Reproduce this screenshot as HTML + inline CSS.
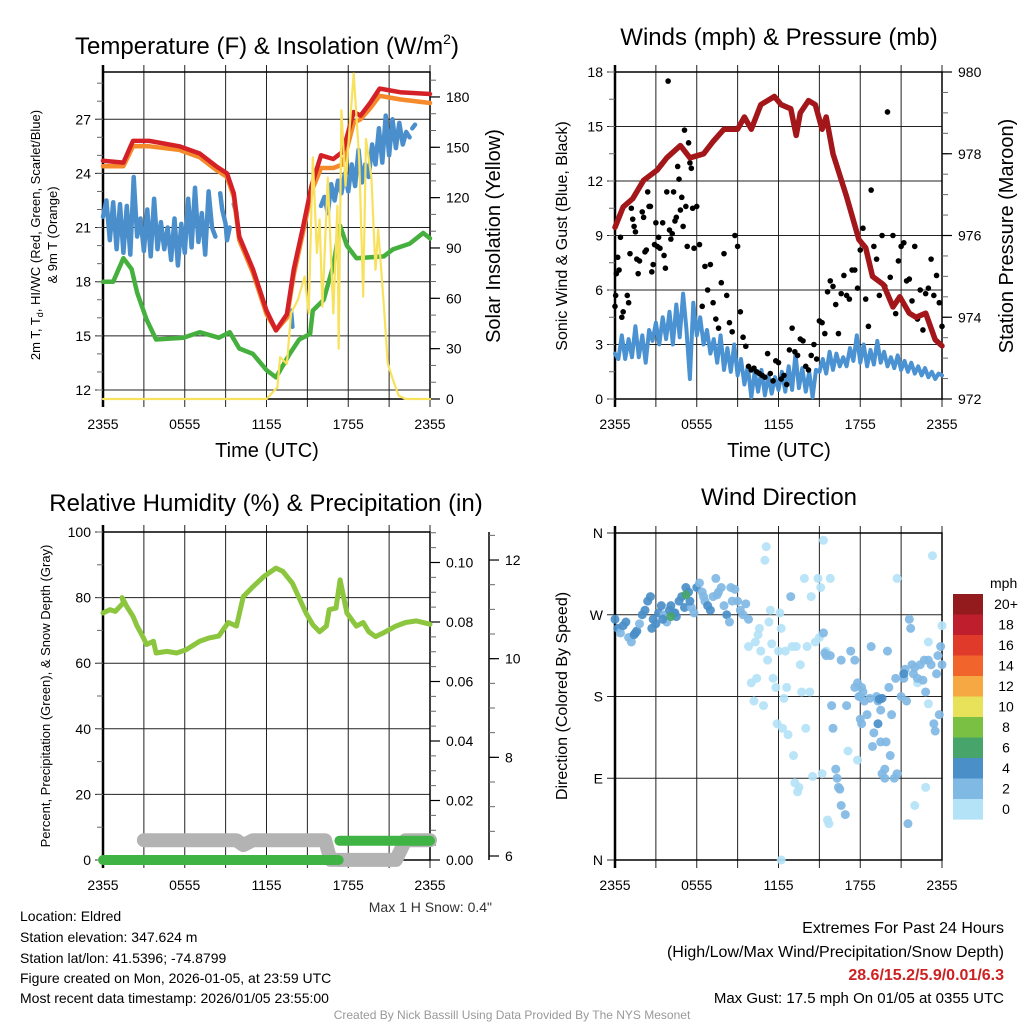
<!DOCTYPE html>
<html><head><meta charset="utf-8"><style>
html,body{margin:0;padding:0;background:#fff;}
svg{display:block;font-family:"Liberation Sans",Arial,sans-serif;}
</style></head><body>
<svg id="chart" width="1024" height="1024" viewBox="0 0 1024 1024" xmlns="http://www.w3.org/2000/svg">
<rect x="0" y="0" width="1024" height="1024" fill="#fff"/>
<text x="267" y="54" font-size="24" text-anchor="middle">Temperature (F) &amp; Insolation (W/m<tspan font-size="14" dy="-10">2</tspan><tspan dy="10">)</tspan></text>
<text x="779" y="45" font-size="24" text-anchor="middle">Winds (mph) &amp; Pressure (mb)</text>
<text x="266" y="511" font-size="24" text-anchor="middle">Relative Humidity (%) &amp; Precipitation (in)</text>
<text x="779" y="505" font-size="24" text-anchor="middle">Wind Direction</text>
<text x="267" y="457" font-size="20" text-anchor="middle">Time (UTC)</text>
<text x="779" y="457" font-size="20" text-anchor="middle">Time (UTC)</text>
<text transform="translate(40,235) rotate(-90)" font-size="13" text-anchor="middle">2m T, T<tspan font-size="9" dy="3">d</tspan><tspan dy="-3">, HI/WC (Red, Green, Scarlet/Blue)</tspan></text>
<text transform="translate(57,235) rotate(-90)" font-size="13" text-anchor="middle">&amp; 9m T (Orange)</text>
<text transform="translate(500,236) rotate(-90)" font-size="20" text-anchor="middle">Solar Insolation (Yellow)</text>
<text transform="translate(567,236) rotate(-90)" font-size="16" text-anchor="middle">Sonic Wind &amp; Gust (Blue, Black)</text>
<text transform="translate(1013,236) rotate(-90)" font-size="20" text-anchor="middle">Station Pressure (Maroon)</text>
<text transform="translate(50,696) rotate(-90)" font-size="13" text-anchor="middle">Percent, Precipitation (Green), &amp; Snow Depth (Gray)</text>
<text transform="translate(567,696) rotate(-90)" font-size="16" text-anchor="middle">Direction (Colored By Speed)</text>
<text x="492" y="912" font-size="14" text-anchor="end" fill="#333">Max 1 H Snow: 0.4"</text>
<g font-size="14" fill="#000">
<text x="20" y="921">Location: Eldred</text>
<text x="20" y="942">Station elevation: 347.624 m</text>
<text x="20" y="963">Station lat/lon: 41.5396; -74.8799</text>
<text x="20" y="983">Figure created on Mon, 2026-01-05, at 23:59 UTC</text>
<text x="20" y="1003">Most recent data timestamp: 2026/01/05 23:55:00</text>
</g>
<g font-size="16" text-anchor="end">
<text x="1004" y="933">Extremes For Past 24 Hours</text>
<text x="1004" y="957">(High/Low/Max Wind/Precipitation/Snow Depth)</text>
<text x="1004" y="980" fill="#cc2222" font-weight="bold">28.6/15.2/5.9/0.01/6.3</text>
<text x="1004" y="1003" font-size="15">Max Gust: 17.5 mph On 01/05 at 0355 UTC</text>
</g>
<text x="512" y="1019" font-size="12" text-anchor="middle" fill="#999">Created By Nick Bassill Using Data Provided By The NYS Mesonet</text>
</svg>
<script>
const timeTickLabels = ["2355","0555","1155","1755","2355"];
const timeTickHours = [0,6,12,18,24];
const p1LeftTicks = [12,15,18,21,24,27];
const p1RightTicks = [0,30,60,90,120,150,180];
const p2LeftTicks = [0,3,6,9,12,15,18];
const p2RightTicks = [972,974,976,978,980];
const p3LeftTicks = [0,20,40,60,80,100];
const p3PrecipTicks = [0,0.02,0.04,0.06,0.08,0.10];
const p3SnowTicks = [6,8,10,12];
const dirTickLabels = ["N","E","S","W","N"];
const dirTickDeg = [0,90,180,270,360];

const tempT = [0,1.5,2.2,3.4,5.6,7.1,8.3,9.1,9.6,10.0,11.0,12.0,12.7,13.5,14.0,14.7,15.3,16.0,16.9,17.6,18.4,18.9,19.6,20.3,21.8,24];
const tempV = [24.7,24.6,25.8,25.8,25.5,25.1,24.4,24.0,22.9,20.5,18.7,16.4,15.3,16.2,18.7,21.1,23.3,25.0,24.8,25.2,27.4,27.2,27.9,28.7,28.5,28.4];
const t9mT = [0,1.5,2.2,3.4,5.6,7.1,8.3,9.1,9.6,10.0,11.0,12.0,12.7,13.5,14.0,14.7,15.3,16.0,16.9,17.6,18.4,18.9,19.6,20.3,21.8,24];
const t9mV = [24.4,24.4,25.5,25.5,25.3,24.9,24.2,23.8,22.7,20.3,18.5,16.2,15.3,16.0,18.4,20.8,23.0,24.3,24.3,24.5,26.8,27.0,27.6,28.3,28.1,27.9];
const dewT = [0,0.75,1.5,2.1,2.5,3.2,3.9,5.9,7.1,8.5,9.3,10.0,11.0,12.0,12.7,13.7,14.4,15.2,15.4,16.2,16.9,17.4,17.9,18.6,20.6,21.3,22.5,23.5,24];
const dewV = [18.0,18.0,19.3,18.7,17.4,15.9,14.8,14.9,15.2,14.9,15.2,14.3,14.0,13.1,12.7,14.0,14.8,15.1,16.4,17.0,18.9,21.1,20.0,19.3,19.4,19.8,20.1,20.7,20.4];
const hiT = [0,0.25,0.5,0.75,1,1.25,1.5,1.75,2,2.25,2.5,2.75,3,3.25,3.5,3.75,4,4.25,4.5,4.75,5,5.25,5.5,5.75,6,6.25,6.5,6.75,7,7.25,7.5,7.75,8,8.25,null,8.6,8.75,9.0,9.1,9.3,null,9.6,9.8,null,13.8,13.9,null,16.0,16.25,16.5,16.75,17.0,17.25,17.5,17.75,18.0,18.25,18.5,18.75,19.0,19.25,19.5,19.75,20.0,20.25,20.5,20.75,21.0,21.25,21.5,21.75,22.0,22.25,22.5,null,22.7,22.9];
const hiV = [21.6,22.5,20.3,22.4,19.8,22.3,19.6,22.2,19.5,23.8,20.5,21.5,19.7,22.0,19.4,22.6,19.8,21.3,19.8,21.0,19.2,21.5,18.9,21.2,19.6,22.6,19.9,23.2,20.2,21.8,19.5,23.0,21.0,20.5,null,22.9,22.0,21.2,20.3,21.0,null,22.3,21.8,null,16.4,15.5,null,22.2,22.7,21.8,23.4,22.5,23.6,22.9,24.0,23.0,24.5,23.3,25.3,23.5,24.5,23.8,25.6,24.5,26.5,24.6,27.2,25.0,27.0,25.4,26.8,25.6,26.3,26.0,null,26.5,26.7];
const solT = [0,12.0,12.8,13.0,13.5,13.8,14.3,14.8,15.1,15.4,15.7,15.9,16.1,16.5,16.9,17.2,17.3,17.5,17.8,18.0,18.4,18.8,19.1,19.3,19.7,20.0,20.2,20.6,20.9,21.3,21.7,22.2,24];
const solV = [0,0,7,25,21,51,59,73,51,144,87,107,55,132,51,115,30,172,127,151,194,143,61,155,132,77,101,57,21,11,2,0,0];

const presT = [0,0.6,1.3,2.1,3.1,3.8,4.8,5.5,6.5,7.2,8.0,9.0,9.5,10.0,10.7,11.7,12.2,12.9,13.3,13.6,14.2,14.7,15.2,15.5,16.0,17.0,17.9,18.4,18.9,19.7,20.4,20.9,21.6,22.1,22.8,23.5,24];
const presV = [976.2,976.7,976.9,977.35,977.6,977.9,978.2,977.9,978.0,978.3,978.6,978.6,978.9,978.6,979.2,979.4,979.2,979.1,978.45,979.0,979.3,979.2,978.6,978.9,978.0,976.95,975.9,975.7,975.0,974.8,974.25,974.5,974.1,974.0,974.1,973.45,973.3];
const windT = [0,0.25,0.5,0.75,1,1.25,1.5,1.75,2,2.25,2.5,2.75,3,3.25,3.5,3.75,4,4.25,4.5,4.75,5,5.25,5.5,5.75,6,6.25,6.5,6.75,7,7.25,7.5,7.75,8,8.25,8.5,8.75,9,9.25,9.5,9.75,10,10.25,10.5,10.75,11,11.25,11.5,11.75,12,12.25,12.5,12.75,13,13.25,13.5,13.75,14,14.25,14.5,14.75,15,15.25,15.5,15.75,16,16.25,16.5,16.75,17,17.25,17.5,17.75,18,18.25,18.5,18.75,19,19.25,19.5,19.75,20,20.25,20.5,20.75,21,21.25,21.5,21.75,22,22.25,22.5,22.75,23,23.25,23.5,23.75,24];
const windV = [2.5,2.2,3.5,2.2,3.3,2.3,4.0,2.3,3.5,2.0,3.8,3.2,4.2,3.0,4.5,3.3,4.8,3.0,5.2,3.4,5.8,3.8,1.1,5.3,3.5,4.5,3.0,3.8,2.5,3.3,2.0,3.5,1.6,2.8,1.5,3.0,1.3,2.2,0.8,1.8,0.1,1.5,0.4,1.6,0.2,1.3,0.3,1.2,0.5,1.5,0.4,1.8,0.5,2.5,0.6,1.7,0.4,1.5,0.1,1.6,1.5,2.2,1.4,2.6,1.6,2.5,1.8,2.3,1.8,2.8,2.1,3.5,2.0,3.0,1.8,2.7,1.9,3.2,2.0,2.6,1.8,2.3,1.7,2.4,1.6,2.1,1.5,2.0,1.4,1.8,1.3,1.7,1.2,1.5,1.1,1.4,1.3];
const gustT = [0,0.05,0.1,0.2,0.3,0.4,0.5,0.6,0.9,1.0,1.1,1.2,1.3,1.4,1.5,1.6,1.7,1.8,2.0,2.1,2.2,2.3,2.4,2.5,2.6,2.7,2.8,2.9,3.0,3.1,3.2,3.3,3.4,3.5,3.6,3.7,3.8,3.9,4.0,4.1,4.2,4.3,4.4,4.5,4.6,4.7,4.8,4.9,5.0,5.1,5.2,5.3,5.4,5.5,5.6,5.7,5.8,6.0,6.2,6.4,6.6,6.8,7.0,7.2,7.4,7.6,7.8,8.0,8.2,8.4,8.6,8.8,9.0,9.2,9.4,9.6,9.8,10.0,10.2,10.4,10.6,10.8,11.0,11.2,11.4,11.6,11.8,12.0,12.2,12.4,12.6,12.8,13.0,13.2,13.4,13.6,13.8,14.0,14.2,14.4,14.6,14.8,15.0,15.2,15.4,15.6,15.8,16.0,16.2,16.4,16.6,16.8,17.0,17.2,17.4,17.6,17.8,18.0,18.2,18.4,18.6,18.8,19.0,19.2,19.4,19.6,19.8,20.0,20.2,20.4,20.6,20.8,21.0,21.2,21.4,21.6,21.8,22.0,22.2,22.4,22.6,22.8,23.0,23.2,23.4,23.6,23.8,24.0];
const gustV = [5.1,5.7,6.9,7.8,7.1,8.9,4.5,4.8,5.7,5.3,8.0,10.5,9.9,9.5,9.2,7.7,6.9,7.6,10.3,10.0,8.1,8.2,11.4,10.6,10.6,7.0,7.4,8.5,9.7,8.4,8.9,8.3,12.9,9.7,7.9,7.2,11.4,17.5,9.3,8.8,9.1,11.4,9.8,10.0,12.8,12.1,10.4,11.1,9.5,14.8,10.6,8.4,14.1,13.0,12.7,10.5,8.3,10.6,8.5,5.1,7.3,6.0,7.4,5.3,4.4,3.9,6.4,8.0,5.7,4.2,3.7,9.0,8.4,4.8,3.4,2.9,1.8,1.6,1.7,1.5,1.4,1.3,1.2,2.5,1.4,1.0,2.1,2.0,1.1,1.3,0.8,2.7,3.9,2.6,2.4,3.3,3.2,1.8,1.6,2.4,3.0,2.2,4.3,4.2,3.6,5.9,6.5,6.2,5.2,3.6,5.8,6.8,5.7,5.5,7.1,7.1,6.1,8.2,9.4,5.5,4.0,11.5,8.4,7.7,5.7,9.0,6.2,15.8,6.7,9.0,4.7,7.6,8.4,8.6,6.5,6.6,5.4,8.4,4.4,6.0,3.8,5.8,6.1,7.7,5.7,6.8,5.3,4.0,5.5,6.8,6.4,3.7];

const rhT = [0,0.5,0.9,1.5,1.4,1.75,2.2,2.5,2.9,3.2,3.7,3.9,4.7,5.4,6.1,7.1,7.8,8.5,9.2,9.8,10.3,11.0,11.8,12.7,13.2,13.9,14.9,15.4,15.9,16.4,16.6,17.1,17.4,17.9,18.6,19.1,19.5,20.0,20.5,21.5,22.2,23.0,24];
const rhV = [75.3,76.3,75.8,78.4,80,77.3,74.3,71.3,68.3,65.7,66.7,63.1,63.6,63.1,64.1,66.7,67.7,68.3,72.4,71.3,80.3,83.3,86.4,89.0,88.0,84.4,75.3,71.7,69.6,71.3,76.3,76.8,85.4,75.3,71.3,72.4,69.6,68.1,69.1,71.3,72.4,72.9,71.9];
const precipT = [0,17.3,null,17.35,24];
const precipV = [0,0,null,0.0065,0.0065];
const snowT = [3.0,9.8,10.3,11.0,11.5,16.3,16.7,21.5,22.2,24];
const snowV = [6.32,6.32,6.22,6.32,6.32,6.32,5.92,5.92,6.32,6.32];

const dirT = [0,0.2,0.4,0.6,0.8,1.0,1.2,1.4,1.6,1.8,2.0,2.2,2.4,2.6,2.8,3.0,3.2,3.4,3.6,3.8,4.0,4.1,4.3,4.5,4.7,4.9,5.1,5.2,5.4,5.6,5.8,6.0,6.2,6.4,6.6,6.8,7.0,7.2,7.4,7.6,7.8,8.0,8.2,8.4,8.6,8.8,9.0,9.2,9.4,9.6,9.8,1.5,2.7,3.5,4.4,5.5,6.5,7.5,8.5,
9.8,10.0,10.2,10.3,10.4,10.5,10.6,10.7,10.9,11.0,11.1,11.2,11.3,11.4,11.5,11.6,11.8,11.9,12.0,12.1,12.2,12.3,12.4,12.5,12.6,12.7,12.9,13.0,13.1,13.2,13.3,13.4,13.5,13.6,13.7,13.9,14.0,14.1,14.3,14.4,14.5,14.7,14.9,15.0,15.1,15.2,15.3,15.5,15.6,15.7,15.8,12.2,22.0,22.8,23.0,24.0,23.3,17.1,17.8,22.2,20.7,23.0,
15.3,15.4,15.5,15.8,15.9,16.0,16.2,16.3,16.4,16.5,16.6,16.9,16.6,17.3,17.6,17.6,17.8,17.9,18.0,18.1,18.2,18.0,18.1,18.3,18.5,18.7,18.8,18.9,19.0,19.2,19.3,19.5,19.6,19.8,19.9,20.0,20.1,20.2,20.3,20.5,20.6,20.7,21.0,21.2,21.3,21.4,21.5,21.6,21.7,21.8,21.9,22.0,22.2,22.4,22.6,22.7,22.8,23.0,23.2,23.4,23.6,23.9,24.0,23.8,23.5,23.7,19.8,19.5,17.0,
19.3,19.4,21.2,19.6,4.1,5.2];
const dirD = [265,255,250,258,262,245,240,248,252,260,270,275,285,290,265,260,272,280,270,262,275,280,272,268,285,290,278,300,295,278,272,300,305,295,285,280,275,290,310,295,300,280,270,262,285,298,285,275,270,282,265,250,255,265,272,285,290,292,300,
235,195,175,240,200,248,255,230,170,330,345,220,262,275,238,200,190,150,230,272,255,145,178,230,190,138,290,235,115,85,235,75,80,215,185,310,145,235,185,290,92,240,310,245,300,95,352,230,44,40,310,0,60,80,172,258,335,120,110,195,310,240,
250,228,225,225,170,145,100,90,80,78,60,50,220,230,220,190,195,180,180,190,185,155,150,175,160,178,235,125,140,180,175,165,95,90,130,230,190,115,160,90,200,95,180,200,210,175,40,265,255,215,205,212,200,215,198,220,185,220,215,150,205,235,215,160,142,225,100,130,170,
150,177,205,178,268,292];
const dirS = [4,4,3,4,4,3,3,4,4,3,4,4,5,4,4,4,4,4,3,3,5,4,4,4,4,5,4,4,4,3,3,4,3,3,3,4,4,3,3,3,3,3,4,3,3,3,3,3,3,3,3,4,4,4,4,4,3,3,3,
1,1,1,1,1,1,1,1,1,1,1,1,1,1,1,1,1,1,1,1,1,1,1,1,1,1,3,1,1,1,1,1,1,1,1,1,1,1,1,1,1,1,1,1,1,1,1,1,1,1,1,1,1,1,1,1,1,1,1,1,1,1,
3,3,3,3,3,3,3,3,3,3,3,3,3,3,3,3,3,3,3,3,3,3,3,3,3,3,3,3,3,3,3,3,3,3,3,3,3,3,3,3,3,3,3,3,3,3,3,3,3,3,3,3,3,3,3,3,3,3,3,3,3,3,3,3,3,3,3,3,3,
5,5,5,5,7,7];
const cbarLabels = ["20+","18","16","14","12","10","8","6","4","2","0"];
const cbarColors = ["#931b1d","#bf1e2d","#df3a2a","#f1652d","#f6a843","#e8e15a","#7ac143","#47a56b","#4a8fc8","#80b9e4","#b4e2f6"];

const NS = "http://www.w3.org/2000/svg";
const svg = document.getElementById('chart');
function mk(tag, parent){ const e = document.createElementNS(NS, tag); parent.appendChild(e); return e; }
const xL = h => 103 + h*327/24;
const xR = h => 615 + h*327/24;
const yTemp = v => 390 - (v-12)*18.05;
const ySol = v => 399 - v*1.678;
const yWind = v => 399 - v*327/18;
const yPres = p => 399 - (p-972)*40.875;
const yRH = v => 860 - v*3.28;
const yPrecip = v => 860 - v*2975;
const ySnow = v => 856 - (v-6)*49.33;
const yDir = d => 860 - d*327/360;
const spdColor = s => cbarColors[10 - Math.min(10, Math.floor(s/2))];

function pathD(ts, vs, fx, fy){
  let d = '', pen = false;
  for (let i=0;i<ts.length;i++){
    if (ts[i]===null || vs[i]===null){ pen=false; continue; }
    d += (pen?'L':'M') + fx(ts[i]).toFixed(1) + ' ' + fy(vs[i]).toFixed(1) + ' ';
    pen = true;
  }
  return d;
}
function line(parent, ts, vs, fx, fy, color, w, name){
  const p = mk('path', parent);
  p.setAttribute('d', pathD(ts, vs, fx, fy));
  p.setAttribute('fill','none'); p.setAttribute('stroke',color);
  p.setAttribute('stroke-width',w); p.setAttribute('stroke-linejoin','round'); p.setAttribute('stroke-linecap','round');
  
  
  return p;
}
function seg(parent,x1,y1,x2,y2,color,w){
  const l = mk('line', parent);
  l.setAttribute('x1',x1); l.setAttribute('y1',y1); l.setAttribute('x2',x2); l.setAttribute('y2',y2);
  l.setAttribute('stroke',color); l.setAttribute('stroke-width',w);
  return l;
}
function txt(parent,x,y,s,anchor,size){
  const t = mk('text', parent);
  t.setAttribute('x',x); t.setAttribute('y',y); t.setAttribute('text-anchor',anchor); t.setAttribute('font-size',size);
  t.textContent = s;
  return t;
}
function frame(name, xs, x0, x1, y0, y1, hTicks, hFun, leftLabels){
  const g = mk('g', svg);
  
  
  for (let h=0; h<=24; h+=3){
    const x = xs(h);
    seg(g, x, y0-7, x, y1+8, '#222', 1);
  }
  hTicks.forEach((v,i)=>{
    const y = hFun(v);
    seg(g, x0-8, y, x1, y, '#222', 1);
    const t = txt(g, x0-12, y+5, leftLabels ? leftLabels[i] : String(v), 'end', 14);
    
    
  });
  const r = mk('rect', g);
  r.setAttribute('x',x0); r.setAttribute('y',y0); r.setAttribute('width',x1-x0); r.setAttribute('height',y1-y0);
  r.setAttribute('fill','none'); r.setAttribute('stroke','#000'); r.setAttribute('stroke-width',1.5);
  seg(g, x0, y0-7, x0, y1+8, '#000', 2.5);
  timeTickHours.forEach((h,i)=>{
    const t = txt(g, xs(h), y1+30, timeTickLabels[i], 'middle', 14);
    
    
  });
  return g;
}
function minorLeft(g, x0, from, to, step, fy){
  for (let v=from; v<=to+1e-9; v+=step) seg(g, x0-6, fy(v), x0, fy(v), '#666', 1);
}
function rightAxis(g, x, ticks, fy, labels, minorFrom, minorTo, minorStep, name){
  for (let v=minorFrom; v<=minorTo+1e-9; v+=minorStep) seg(g, x, fy(v), x+6, fy(v), '#666', 1);
  ticks.forEach((v,i)=>{
    seg(g, x, fy(v), x+10, fy(v), '#000', 1.2);
    const t = txt(g, x+16, fy(v)+5, labels[i], 'start', 14);
    
    
  });
}

const g1 = frame('temp-panel', xL, 103, 430, 72, 399, p1LeftTicks, yTemp);
minorLeft(g1, 103, 12, 29, 1, yTemp);
rightAxis(g1, 430, p1RightTicks, ySol, p1RightTicks.map(String), 0, 190, 10, 'solar-tick-label');
const s1 = mk('g', svg);


line(s1, dewT, dewV, xL, yTemp, '#45b03e', 4.5, 'dewpoint-line');
line(s1, hiT, hiV, xL, yTemp, '#4a8fcc', 4.5, 'windchill-line');
line(s1, t9mT, t9mV, xL, yTemp, '#f58a2b', 4.5, 'temp-9m-line');
line(s1, tempT, tempV, xL, yTemp, '#d42027', 4.5, 'temp-2m-line');
line(s1, solT, solV, xL, ySol, '#f8e15c', 2.2, 'insolation-line');

const g2 = frame('wind-panel', xR, 615, 942, 72, 399, p2LeftTicks, yWind);
minorLeft(g2, 615, 0, 18, 1.5, yWind);
rightAxis(g2, 942, p2RightTicks, yPres, p2RightTicks.map(String), 972, 980, 0.5, 'pressure-tick-label');
const s2 = mk('g', svg);


line(s2, windT, windV, xR, yWind, '#4a92d2', 4, 'sonic-wind-line');
gustT.forEach((t,i)=>{
  const c = mk('circle', s2);
  c.setAttribute('cx', xR(t)); c.setAttribute('cy', yWind(gustV[i])); c.setAttribute('r', 2.8); c.setAttribute('fill','#000');
  
  
});
line(s2, presT, presV, xR, yPres, '#a3161a', 5.5, 'pressure-line');

const g3 = frame('humidity-panel', xL, 103, 430, 532, 860, p3LeftTicks, yRH);
minorLeft(g3, 103, 0, 100, 10, yRH);
rightAxis(g3, 430, p3PrecipTicks, yPrecip, ["0.00","0.02","0.04","0.06","0.08","0.10"], 0, 0.11, 0.005, 'precip-tick-label');
seg(g3, 489, 532, 489, 860, '#000', 1.5);
rightAxis(g3, 489, p3SnowTicks, ySnow, p3SnowTicks.map(String), 6, 12.5, 0.5, 'snow-tick-label');
const s3 = mk('g', svg);


line(s3, snowT, snowV, xL, ySnow, '#b3b3b3', 14, 'snow-depth-line');
line(s3, precipT, precipV, xL, yPrecip, '#3fb444', 10, 'precip-line');
line(s3, rhT, rhV, xL, yRH, '#8cc63f', 5, 'humidity-line');

const g4 = frame('direction-panel', xR, 615, 942, 533, 860, dirTickDeg, yDir, dirTickLabels);
const s4 = mk('g', svg);


dirT.forEach((t,i)=>{
  const c = mk('circle', s4);
  c.setAttribute('cx', xR(t)); c.setAttribute('cy', yDir(dirD[i])); c.setAttribute('r', 4.5);
  c.setAttribute('fill', spdColor(dirS[i])); c.setAttribute('fill-opacity', 0.92);
  
  
});
const cb = mk('g', svg);


const cbt = txt(cb, 990, 588, 'mph', 'start', 14);


cbarColors.forEach((col,i)=>{
  const r = mk('rect', cb);
  r.setAttribute('x', 953); r.setAttribute('y', 594 + i*20.5); r.setAttribute('width', 30); r.setAttribute('height', 20.6); r.setAttribute('fill', col);
  
  
  const t = txt(cb, 1006, 609 + i*20.5, cbarLabels[i], 'middle', 14);
  
  
});
</script>
</body></html>
